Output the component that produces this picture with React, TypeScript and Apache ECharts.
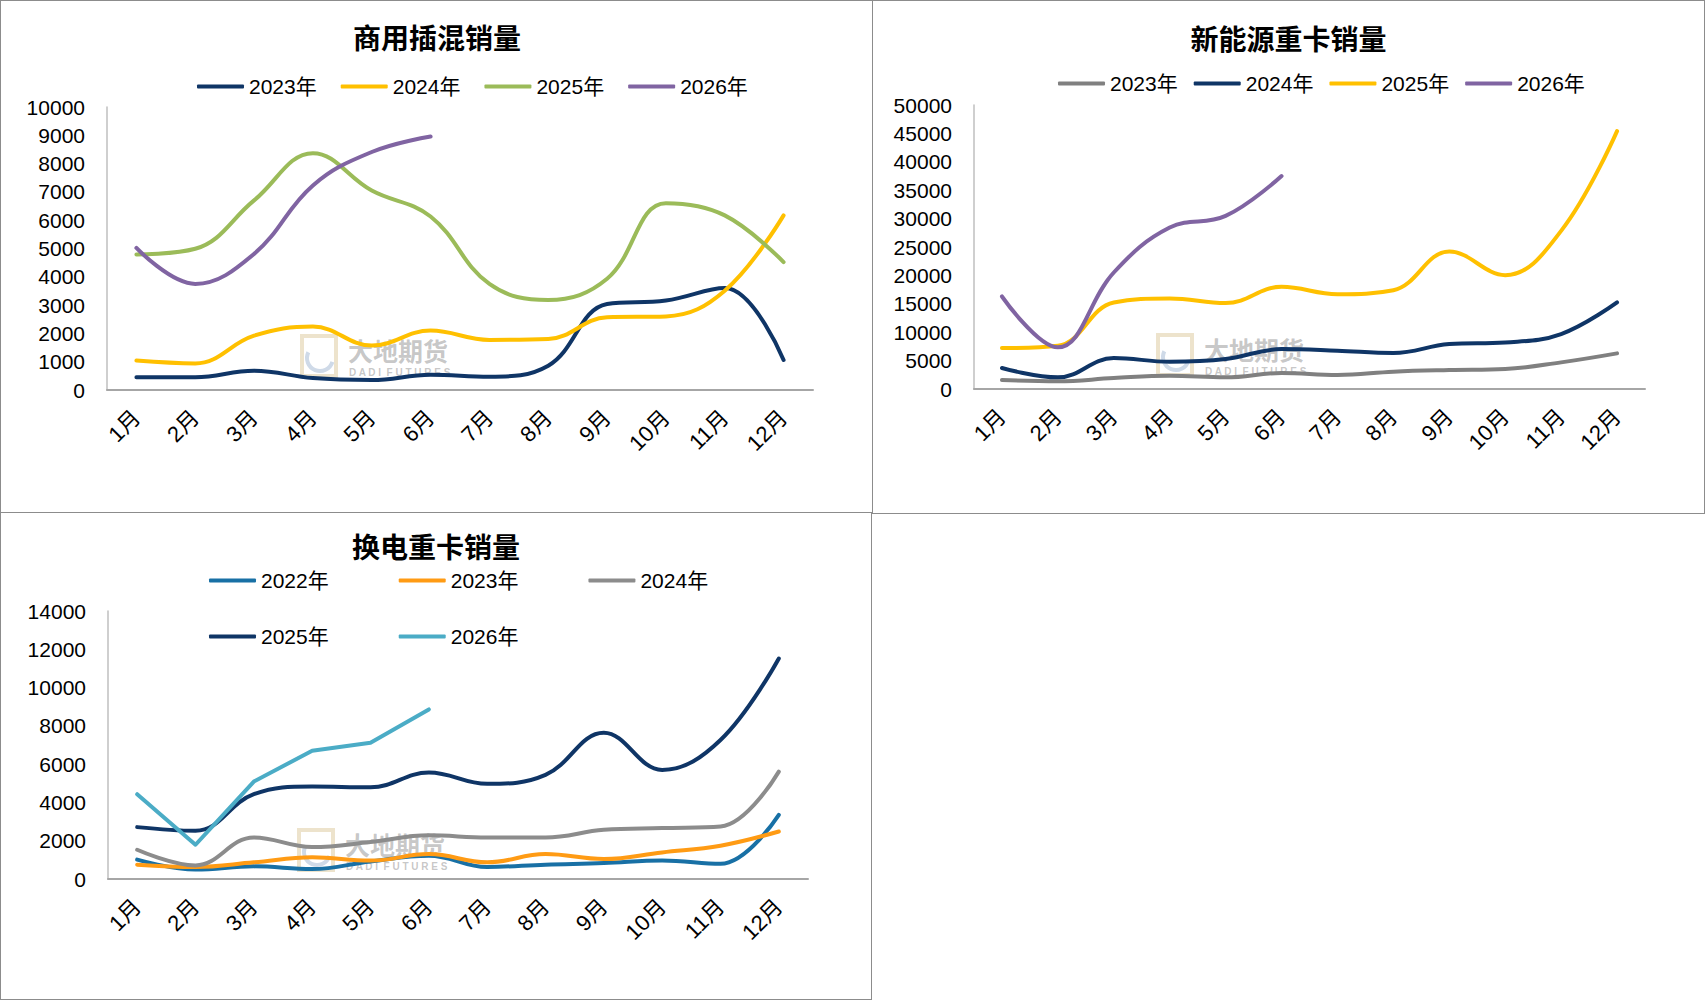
import React, { useEffect, useRef } from 'react';
import * as echarts from 'echarts';

const months = ['1月', '2月', '3月', '4月', '5月', '6月', '7月', '8月', '9月', '10月', '11月', '12月'];

// 商用插混销量
const phev2023 = [450, 450, 680, 420, 350, 540, 470, 860, 3040, 3160, 3600, 1060];
const phev2024 = [1040, 940, 1920, 2240, 1570, 2100, 1770, 1800, 2570, 2600, 3510, 6170];
const phev2025 = [4790, 4990, 6700, 8370, 7050, 6130, 3750, 3180, 3930, 6600, 6170, 4520];
const phev2026 = [5020, 3750, 4810, 7230, 8410, 8960];

// 新能源重卡销量
const nev2023 = [1580, 1350, 1930, 2340, 2050, 2810, 2460, 3050, 3340, 3520, 4690, 6270];
const nev2024 = [3690, 2050, 5450, 4800, 5270, 7030, 6740, 6330, 7910, 8200, 9670, 15240];
const nev2025 = [7210, 7620, 15240, 15940, 15120, 17990, 16700, 17400, 24200, 20040, 27840, 45400];
const nev2026 = [16290, 7330, 20510, 28420, 30470, 37500];

// 换电重卡销量
const swap2022 = [1010, 490, 660, 520, 920, 1220, 630, 750, 830, 970, 800, 3350];
const swap2023 = [750, 630, 870, 1130, 960, 1300, 870, 1300, 1040, 1390, 1740, 2480];
const swap2024 = [1530, 710, 2170, 1670, 1930, 2280, 2170, 2170, 2570, 2660, 2740, 5610];
const swap2025 = [2710, 2520, 4430, 4830, 4790, 5560, 4970, 5440, 7640, 5700, 7260, 11520];
const swap2026 = [4430, 1790, 5090, 6700, 7120, 8860];

const FONT = '"Liberation Sans", "Noto Sans CJK SC", sans-serif';
const CJK = '"Noto Sans CJK SC", sans-serif';

interface SeriesCfg {
  name: string;
  data: number[];
  color: string;
  smooth?: boolean;
}

interface PanelCfg {
  title: string;
  titleTop: number;
  legends: { names: string[]; left: number; top: number; gap: number }[];
  grid: { left: number; top: number; width: number; height: number };
  yMax: number;
  yInterval: number;
  series: SeriesCfg[];
  mark: [number, number];
}

const panels: PanelCfg[] = [
  {
    title: '商用插混销量',
    titleTop: 22,
    legends: [{ names: ['2023年', '2024年', '2025年', '2026年'], left: 196, top: 75, gap: 24 }],
    grid: { left: 106, top: 106, width: 706, height: 283 },
    yMax: 10000,
    yInterval: 1000,
    series: [
      { name: '2023年', data: phev2023, color: '#0F3566' },
      { name: '2024年', data: phev2024, color: '#FFC000' },
      { name: '2025年', data: phev2025, color: '#9BBB59' },
      { name: '2026年', data: phev2026, color: '#8064A2' },
    ],
    mark: [297, 333],
  },
  {
    title: '新能源重卡销量',
    titleTop: 23,
    legends: [{ names: ['2023年', '2024年', '2025年', '2026年'], left: 185, top: 72, gap: 16 }],
    grid: { left: 101, top: 104, width: 671, height: 284 },
    yMax: 50000,
    yInterval: 5000,
    series: [
      { name: '2023年', data: nev2023, color: '#808080' },
      { name: '2024年', data: nev2024, color: '#0F3566' },
      { name: '2025年', data: nev2025, color: '#FFC000' },
      { name: '2026年', data: nev2026, color: '#8064A2' },
    ],
    mark: [281, 332],
  },
  {
    title: '换电重卡销量',
    titleTop: 19,
    legends: [
      { names: ['2022年', '2023年', '2024年'], left: 208, top: 57, gap: 70 },
      { names: ['2025年', '2026年'], left: 208, top: 113, gap: 70 },
    ],
    grid: { left: 107, top: 98, width: 700, height: 268 },
    yMax: 14000,
    yInterval: 2000,
    series: [
      { name: '2022年', data: swap2022, color: '#1870A5' },
      { name: '2023年', data: swap2023, color: '#FF9B14' },
      { name: '2024年', data: swap2024, color: '#8C8C8C' },
      { name: '2025年', data: swap2025, color: '#0F3566' },
      { name: '2026年', data: swap2026, color: '#4BACC6', smooth: false },
    ],
    mark: [294, 315],
  },
];

// 水印
const watermark = (x: number, y: number) => ({
  type: 'group',
  x,
  y,
  z: 0,
  silent: true,
  children: [
    { type: 'rect', shape: { x: 4, y: 2, width: 34, height: 40 }, style: { fill: 'none', stroke: '#EDE3CC', lineWidth: 4 } },
    { type: 'arc', shape: { cx: 22, cy: 24, r: 13, startAngle: 0.3, endAngle: 3.6 }, style: { fill: 'none', stroke: '#CFDAE8', lineWidth: 4 } },
    {
      type: 'text',
      x: 50,
      y: 3,
      style: { text: '大地期货', fontSize: 25, fontWeight: 'bold', fontFamily: CJK, fill: 'rgba(130,130,130,0.45)' },
    },
    {
      type: 'text',
      x: 51,
      y: 33,
      style: { text: 'D A D I  F U T U R E S', fontSize: 10, fontWeight: 'bold', fontFamily: FONT, fill: 'rgba(130,130,130,0.45)' },
    },
  ],
});

const buildOption = (cfg: PanelCfg): any => ({
  animation: false,
  title: {
    text: cfg.title,
    left: 'center',
    top: cfg.titleTop,
    padding: 0,
    textStyle: { fontSize: 28, fontWeight: 'bold', color: '#000', fontFamily: CJK },
  },
  legend: cfg.legends.map((l) => ({
    data: l.names,
    left: l.left,
    top: l.top,
    padding: 0,
    icon: 'roundRect',
    itemWidth: 47,
    itemHeight: 4,
    itemGap: l.gap,
    textStyle: { fontSize: 21, color: '#000', fontFamily: FONT },
  })),
  grid: { ...cfg.grid },
  xAxis: {
    type: 'category',
    data: months,
    boundaryGap: true,
    axisLine: { lineStyle: { color: '#A6A6A6', width: 2 } },
    axisTick: { show: false },
    axisLabel: { rotate: 45, interval: 0, fontSize: 22, margin: 24, color: '#000', fontFamily: FONT },
  },
  yAxis: {
    type: 'value',
    min: 0,
    max: cfg.yMax,
    interval: cfg.yInterval,
    axisLine: { show: true, lineStyle: { color: '#BFBFBF', width: 1.5 } },
    axisTick: { show: false },
    splitLine: { show: false },
    axisLabel: { fontSize: 21, margin: 22, color: '#000', fontFamily: FONT, formatter: (v: number) => String(v) },
  },
  series: cfg.series.map((s) => ({
    name: s.name,
    type: 'line',
    data: s.data,
    smooth: s.smooth === false ? false : 0.4,
    symbol: 'none',
    z: 3,
    itemStyle: { color: s.color },
    lineStyle: { color: s.color, width: 4, cap: 'round', join: 'round' },
  })),
  graphic: [watermark(cfg.mark[0], cfg.mark[1])],
});

const ChartPanel: React.FC<{ cfg: PanelCfg; box: React.CSSProperties }> = ({ cfg, box }) => {
  const chartRef = useRef<HTMLDivElement>(null);

  useEffect(() => {
    if (!chartRef.current) return;
    const chart = echarts.init(chartRef.current, undefined, { renderer: 'svg' });
    chart.setOption(buildOption(cfg));
    return () => {
      chart.dispose();
    };
  }, [cfg]);

  return (
    <div
      style={{
        position: 'absolute',
        boxSizing: 'border-box',
        border: '1.5px solid #8C8C8C',
        background: '#fff',
        ...box,
      }}
    >
      <div ref={chartRef} style={{ width: '100%', height: '100%' }} />
    </div>
  );
};

export default function App() {
  return (
    <div style={{ position: 'absolute', left: 0, top: 0, width: 1705, height: 1001, background: '#fff' }}>
      <ChartPanel cfg={panels[0]} box={{ left: 0, top: 0, width: 874, height: 514 }} />
      <ChartPanel cfg={panels[1]} box={{ left: 872, top: 0, width: 833, height: 514 }} />
      <ChartPanel cfg={panels[2]} box={{ left: 0, top: 512, width: 872, height: 488 }} />
    </div>
  );
}
